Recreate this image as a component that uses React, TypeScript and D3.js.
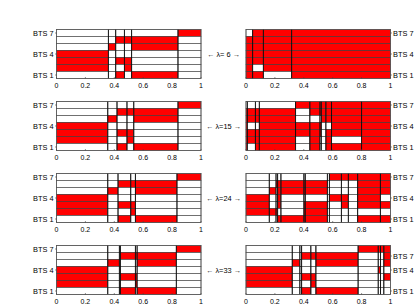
import React from "react";
import * as d3 from "d3";

const W = 415;
const H = 304;

const lambdas = [6, 15, 24, 33];
const xTicks = [0, 0.2, 0.4, 0.6, 0.8, 1];
const btsRows = [7, 6, 5, 4, 3, 2, 1];
const yTicks = [7, 4, 1];
// last right panel has its top label one row lower in the original
const yTicksR33 = [6, 4, 1];

// each panel: interior breakpoints on [0,1], then cells per row (BTS 7 at top .. BTS 1)
const breaksL6 = [0.359, 0.41, 0.47, 0.52, 0.841];
const cellsL6 = [
  [0, 0, 0, 0, 0, 1],
  [0, 0, 1, 1, 1, 0],
  [0, 1, 0, 0, 1, 0],
  [1, 0, 0, 0, 0, 0],
  [1, 0, 1, 1, 0, 0],
  [1, 0, 0, 1, 0, 0],
  [0, 0, 1, 0, 1, 0],
];

const breaksR6 = [0.046, 0.12, 0.316];
const cellsR6 = [
  [0, 1, 1, 1],
  [1, 1, 1, 1],
  [1, 1, 1, 1],
  [1, 1, 1, 1],
  [1, 1, 1, 1],
  [1, 0, 1, 1],
  [1, 1, 0, 1],
];

const breaksL15 = [0.355, 0.419, 0.488, 0.535, 0.841];
const cellsL15 = cellsL6;

const breaksR15 = [0.009, 0.065, 0.092, 0.343, 0.442, 0.512, 0.521, 0.553, 0.592, 0.8];
const cellsR15 = [
  [0, 0, 0, 0, 1, 1, 1, 1, 1, 1, 1],
  [1, 1, 1, 1, 0, 1, 1, 1, 1, 1, 1],
  [1, 1, 1, 1, 0, 0, 0, 1, 1, 1, 1],
  [1, 0, 0, 1, 1, 1, 1, 0, 0, 1, 1],
  [1, 1, 1, 1, 1, 1, 1, 0, 1, 1, 1],
  [1, 1, 1, 1, 0, 1, 0, 0, 1, 0, 1],
  [1, 0, 1, 1, 0, 1, 0, 0, 1, 1, 1],
];

const breaksL24 = [0.355, 0.426, 0.514, 0.546, 0.834];
const cellsL24 = cellsL6;

const breaksR24 = [0.161, 0.208, 0.219, 0.242, 0.401, 0.41, 0.563, 0.577, 0.66, 0.708, 0.773, 0.93];
const cellsR24 = [
  [0, 0, 0, 0, 0, 0, 0, 0, 1, 1, 1, 1, 1],
  [0, 0, 1, 1, 1, 1, 1, 0, 0, 0, 0, 1, 1],
  [0, 1, 0, 1, 1, 1, 1, 0, 0, 0, 0, 1, 1],
  [1, 0, 0, 1, 0, 0, 0, 0, 1, 1, 0, 1, 0],
  [1, 0, 0, 1, 0, 1, 1, 0, 0, 1, 0, 1, 1],
  [1, 1, 1, 0, 0, 1, 1, 0, 0, 0, 0, 0, 0],
  [0, 0, 0, 1, 1, 1, 1, 0, 0, 0, 0, 1, 1],
];

const breaksL33 = [0.355, 0.435, 0.442, 0.546, 0.558, 0.829];
const cellsL33 = [
  [0, 0, 0, 0, 0, 0, 1],
  [0, 0, 0, 1, 1, 1, 0],
  [0, 1, 0, 0, 0, 1, 0],
  [1, 0, 0, 0, 0, 0, 0],
  [1, 0, 0, 1, 1, 0, 0],
  [1, 0, 0, 0, 1, 0, 0],
  [0, 0, 0, 1, 0, 1, 0],
];

const breaksR33 = [0.32, 0.373, 0.385, 0.449, 0.484, 0.776, 0.915, 0.931, 0.954];
const cellsR33 = [
  [0, 0, 0, 0, 0, 0, 1, 1, 1, 1],
  [0, 0, 0, 1, 1, 1, 0, 0, 0, 1],
  [0, 1, 0, 0, 0, 1, 0, 0, 0, 1],
  [1, 0, 0, 0, 0, 0, 0, 1, 0, 0],
  [1, 0, 0, 1, 1, 0, 0, 0, 0, 1],
  [1, 0, 0, 0, 1, 0, 0, 0, 0, 0],
  [0, 0, 0, 1, 0, 1, 0, 0, 0, 0],
];

const panels = [
  { row: 0, side: "L", breaks: breaksL6, cells: cellsL6, ticks: yTicks },
  { row: 0, side: "R", breaks: breaksR6, cells: cellsR6, ticks: yTicks },
  { row: 1, side: "L", breaks: breaksL15, cells: cellsL15, ticks: yTicks },
  { row: 1, side: "R", breaks: breaksR15, cells: cellsR15, ticks: yTicks },
  { row: 2, side: "L", breaks: breaksL24, cells: cellsL24, ticks: yTicks },
  { row: 2, side: "R", breaks: breaksR24, cells: cellsR24, ticks: yTicks },
  { row: 3, side: "L", breaks: breaksL33, cells: cellsL33, ticks: yTicks },
  { row: 3, side: "R", breaks: breaksR33, cells: cellsR33, ticks: yTicksR33 },
];

const PW = 144.5;
const PH = 49;
const leftX = 56.5;
const rightX = 246;
const topOf = (r: number) => 29.5 + r * 72;
const font = "'Liberation Sans', Arial, Helvetica, sans-serif";

function Panel({ p }: { p: any }) {
  const x0 = p.side === "L" ? leftX : rightX;
  const top = topOf(p.row);
  const x = d3.scaleLinear().domain([0, 1]).range([x0, x0 + PW]);
  const y = d3.scaleBand<number>().domain(btsRows).range([top, top + PH]).padding(0);
  const edges = [0, ...p.breaks, 1];
  const bottom = top + PH;
  return (
    <g>
      {p.cells.map((rowCells: number[], ri: number) =>
        rowCells.map((v, j) => (
          <rect
            key={`${ri}-${j}`}
            x={x(edges[j])}
            y={y(btsRows[ri])}
            width={x(edges[j + 1]) - x(edges[j])}
            height={y.bandwidth()}
            fill={v ? "#ff0000" : "#ffffff"}
            stroke="#3a3a3a"
            strokeWidth={0.6}
          />
        ))
      )}
      {p.breaks.map((b: number, i: number) => (
        <line key={i} x1={x(b)} x2={x(b)} y1={top} y2={bottom} stroke="#000" strokeWidth={0.8} />
      ))}
      <rect x={x0} y={top} width={PW} height={PH} fill="none" stroke="#555" strokeWidth={0.7} />
      {xTicks.map((t) => (
        <g key={t}>
          <line x1={x(t)} x2={x(t)} y1={bottom} y2={bottom - 1.5} stroke="#444" strokeWidth={0.6} />
          <text x={x(t)} y={bottom + 9.3} textAnchor="middle" fontSize={7} fontFamily={font} fill="#000">
            {t}
          </text>
        </g>
      ))}
      {p.ticks.map((r: number, i: number) => {
        const yc = (y(r) as number) + y.bandwidth() / 2;
        const lab = `BTS ${yTicks[i]}`;
        return p.side === "L" ? (
          <g key={r}>
            <line x1={x0} x2={x0 - 1.5} y1={yc} y2={yc} stroke="#444" strokeWidth={0.6} />
            <text x={x0 - 3} y={yc} dy="0.35em" textAnchor="end" fontSize={7.4} fontFamily={font} fill="#000">
              {lab}
            </text>
          </g>
        ) : (
          <g key={r}>
            <line x1={x0 + PW} x2={x0 + PW + 1.5} y1={yc} y2={yc} stroke="#444" strokeWidth={0.6} />
            <text x={x0 + PW + 2.5} y={yc} dy="0.35em" textAnchor="start" fontSize={7.4} fontFamily={font} fill="#000">
              {lab}
            </text>
          </g>
        );
      })}
    </g>
  );
}

export default function App() {
  const midX = (leftX + PW + rightX) / 2;
  return (
    <svg
      width={W}
      height={H}
      style={{ position: "absolute", left: 0, top: 0, background: "#fff" }}
    >
      {panels.map((p, i) => (
        <Panel key={i} p={p} />
      ))}
      {lambdas.map((l, i) => (
        <text
          key={l}
          x={midX}
          y={topOf(i) + PH / 2}
          dy="0.35em"
          textAnchor="middle"
          fontSize={7.4}
          fontFamily={font}
          fill="#000"
        >
          {`\u2190 \u03bb=${l < 10 ? " " + l : l} \u2192`}
        </text>
      ))}
    </svg>
  );
}
